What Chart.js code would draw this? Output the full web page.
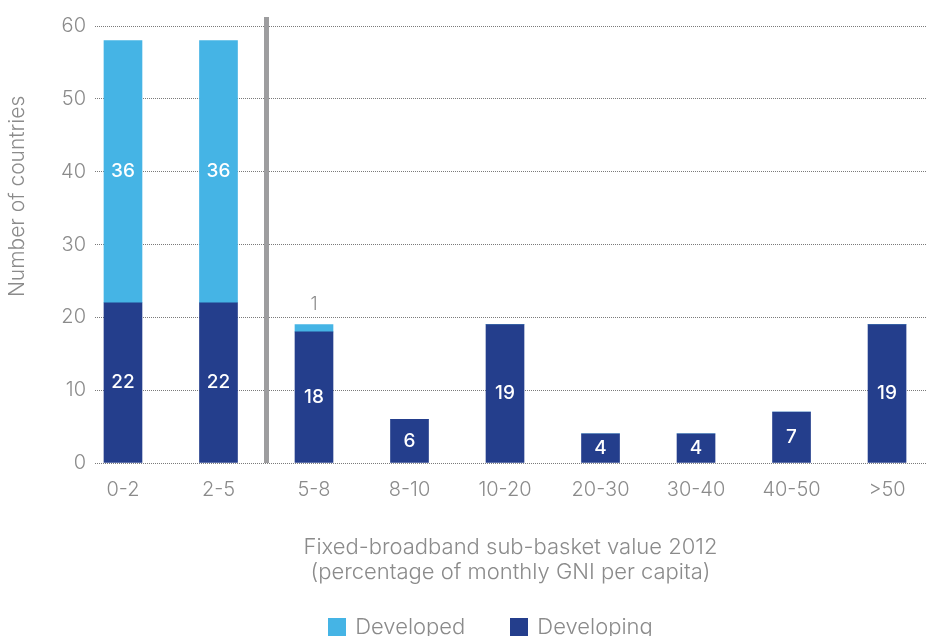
<!DOCTYPE html>
<html>
<head>
<meta charset="utf-8">
<script src="https://cdn.jsdelivr.net/npm/chart.js@4.4.0/dist/chart.umd.min.js"></script>
<style>
  html, body { margin: 0; padding: 0; background: #fff; }
  canvas { display: block; }
</style>
</head>
<body>
<canvas id="c" width="926" height="636"></canvas>
<script>
// Price bands of the fixed-broadband sub-basket (% of monthly GNI per capita)
const categories = ['0-2', '2-5', '5-8', '8-10', '10-20', '20-30', '30-40', '40-50', '>50'];
// Number of countries in each band
const developing = [22, 22, 18, 6, 19, 4, 4, 7, 19];
const developed  = [36, 36, 1, 0, 0, 0, 0, 0, 0];
const yTicks = [0, 10, 20, 30, 40, 50, 60];
const seriesNames = ['Developed', 'Developing'];
const xTitle = ['Fixed-broadband sub-basket value 2012', '(percentage of monthly GNI per capita)'];
const yTitle = 'Number of countries';
// Bands up to this index are the affordable ones, set apart by a divider
const dividerAfter = 1;

const COL_DEVELOPED = '#45b4e5';
const COL_DEVELOPING = '#243e8c';
const GREY = '#8b8b8b';
const FONT = 'Inter, "Open Sans", "Liberation Sans", Arial, sans-serif';

const toPoints = arr => arr.map((v, i) => ({ x: i, y: v }));

// Vertical divider between the affordable bands and the rest
const dividerPlugin = {
  id: 'divider',
  afterDatasetsDraw(chart) {
    const { ctx, chartArea, scales } = chart;
    const x = scales.x.getPixelForValue(dividerAfter + 0.5);
    ctx.save();
    ctx.fillStyle = '#9d9d9f';
    ctx.fillRect(Math.round(x - 2.5), chartArea.top - 9, 5, chartArea.bottom - chartArea.top + 9);
    ctx.restore();
  }
};

// Counts written inside each segment (or above it when the segment is too thin)
const valueLabelPlugin = {
  id: 'valueLabels',
  afterDatasetsDraw(chart) {
    const { ctx } = chart;
    ctx.save();
    ctx.textAlign = 'center';
    ctx.textBaseline = 'middle';
    chart.data.datasets.forEach((ds, di) => {
      const meta = chart.getDatasetMeta(di);
      meta.data.forEach((bar, i) => {
        const v = ds.data[i].y;
        if (!v) return;
        const { y, base } = bar.getProps(['y', 'base'], true);
        const h = base - y;
        if (h >= 16) {
          ctx.font = '500 19px ' + FONT;
          ctx.fillStyle = '#ffffff';
          ctx.fillText(String(v), bar.x, (y + base) / 2);
        } else {
          ctx.font = '300 18px ' + FONT;
          ctx.fillStyle = GREY;
          ctx.fillText(String(v), bar.x, y - 20);
        }
      });
    });
    ctx.restore();
  }
};

// Rotated y-axis title and the legend row under the axis title
const decorPlugin = {
  id: 'decor',
  afterDraw(chart) {
    const { ctx, chartArea } = chart;
    ctx.save();
    ctx.fillStyle = GREY;
    ctx.font = '300 21px ' + FONT;
    ctx.textAlign = 'center';
    ctx.textBaseline = 'middle';
    ctx.translate(18, chartArea.top + (chartArea.bottom - chartArea.top) * 0.39);
    ctx.rotate(-Math.PI / 2);
    ctx.fillText(yTitle, 0, 0);
    ctx.restore();

    // legend
    ctx.save();
    ctx.font = '300 22px ' + FONT;
    ctx.textBaseline = 'middle';
    ctx.textAlign = 'left';
    const box = 18, gapText = 9, gapItem = 45;
    const colors = [COL_DEVELOPED, COL_DEVELOPING];
    const widths = seriesNames.map(n => box + gapText + ctx.measureText(n).width);
    const total = widths.reduce((a, b) => a + b, 0) + gapItem;
    const cx = (chartArea.left + chartArea.right) / 2 - 20;
    let x = cx - total / 2;
    const yMid = chart.height - 9;
    seriesNames.forEach((n, i) => {
      ctx.fillStyle = colors[i];
      ctx.fillRect(Math.round(x), Math.round(yMid - box / 2), box, box);
      ctx.fillStyle = GREY;
      ctx.fillText(n, x + box + gapText, yMid);
      x += widths[i] + gapItem;
    });
    ctx.restore();
  }
};

new Chart(document.getElementById('c'), {
  type: 'bar',
  data: {
    datasets: [
      { label: seriesNames[1], data: toPoints(developing), backgroundColor: COL_DEVELOPING },
      { label: seriesNames[0], data: toPoints(developed), backgroundColor: COL_DEVELOPED }
    ]
  },
  options: {
    responsive: false,
    animation: false,
    barThickness: 38,
    layout: { padding: { top: 26, right: 0, bottom: 51, left: 0 } },
    plugins: {
      legend: { display: false },
      tooltip: { enabled: false }
    },
    scales: {
      x: {
        type: 'linear',
        stacked: true,
        offset: false,
        min: -0.293,
        max: 8.408,
        afterBuildTicks(scale) {
          scale.ticks = categories.map((c, i) => ({ value: i }));
        },
        ticks: {
          autoSkip: false,
          maxRotation: 0,
          padding: 15,
          color: GREY,
          font: { family: FONT, size: 20, weight: '300' },
          callback: v => categories[v] !== undefined ? categories[v] : ''
        },
        grid: { display: false, drawTicks: false },
        border: { display: false },
        title: {
          display: true,
          text: xTitle,
          color: GREY,
          font: { family: FONT, size: 22, weight: '300', lineHeight: 1.136 },
          padding: { top: 18, bottom: 0 }
        }
      },
      y: {
        stacked: true,
        min: 0,
        max: 60,
        afterBuildTicks(scale) {
          scale.ticks = yTicks.map(v => ({ value: v }));
        },
        afterFit(scale) { scale.width = 95; },
        ticks: {
          padding: 9,
          color: GREY,
          font: { family: FONT, size: 20, weight: '300' }
        },
        grid: { color: '#7a7a7a', lineWidth: 1, drawTicks: false },
        border: { display: false, dash: [1, 1] }
      }
    }
  },
  plugins: [dividerPlugin, valueLabelPlugin, decorPlugin]
});
</script>
</body>
</html>
